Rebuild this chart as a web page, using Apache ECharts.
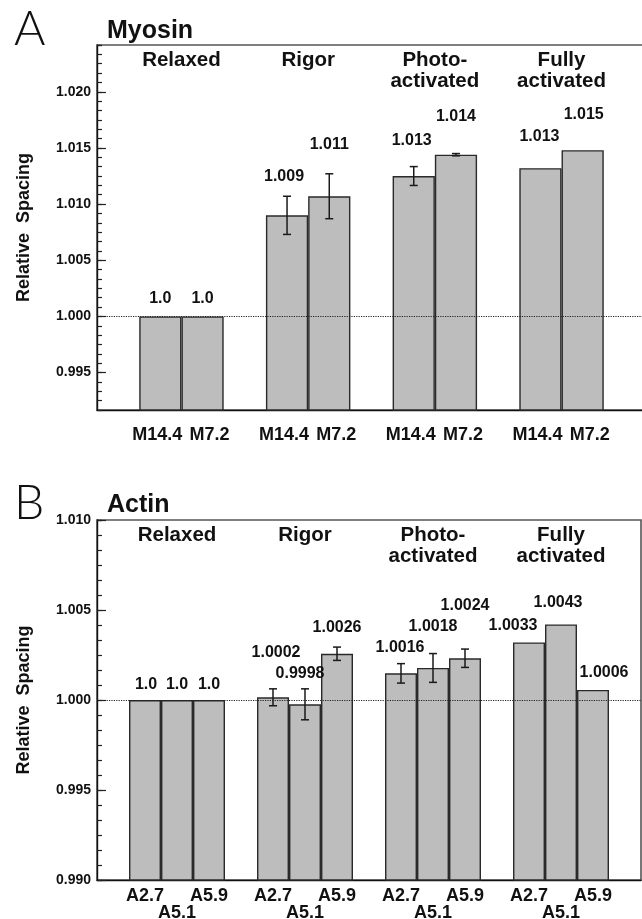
<!DOCTYPE html>
<html><head><meta charset="utf-8">
<script src="https://cdn.jsdelivr.net/npm/echarts@6/dist/echarts.min.js"></script>
<style>html,body{margin:0;padding:0;background:#fff}#c{width:642px;height:919px}</style>
</head><body><div id="c"></div>
<script>
// ================= DATA =================
const conditions = ['Relaxed', 'Rigor', 'Photo-\nactivated', 'Fully\nactivated'];

// Panel A - Myosin
const myosinProbes = ['M14.4', 'M7.2'];
const myosinM144 = [1.0000, 1.0090, 1.0125, 1.0132];
const myosinM72  = [1.0000, 1.0107, 1.0144, 1.0148];
const myosinM144Err = [0, 0.0017, 0.00084, 0];
const myosinM72Err  = [0, 0.0020, 0.0001, 0];
const myosinM144Text = ['1.0', '1.009', '1.013', '1.013'];
const myosinM72Text  = ['1.0', '1.011', '1.014', '1.015'];
const myosinTicks = [0.995, 1.000, 1.005, 1.010, 1.015, 1.020];

// Panel B - Actin
const actinProbes = ['A2.7', 'A5.1', 'A5.9'];
const actinA27 = [1.0000, 1.00015, 1.00148, 1.0032];
const actinA51 = [1.0000, 0.99976, 1.00178, 1.0042];
const actinA59 = [1.0000, 1.00257, 1.00232, 1.00056];
const actinA27Err = [0, 0.00047, 0.00054, 0];
const actinA51Err = [0, 0.00086, 0.00080, 0];
const actinA59Err = [0, 0.00037, 0.00051, 0];
const actinA27Text = ['1.0', '1.0002', '1.0016', '1.0033'];
const actinA51Text = ['1.0', '0.9998', '1.0018', '1.0043'];
const actinA59Text = ['1.0', '1.0026', '1.0024', '1.0006'];
const actinTicks = [0.990, 0.995, 1.000, 1.005, 1.010];

// ================= LAYOUT / STYLE =================
const FONT = "'Liberation Sans', Arial, Helvetica, sans-serif";
const LETTER_FONT = "Lato, " + FONT;
const INK = '#111';
const MINOR = 0.005 / 6;

const option = {
  animation: false,
  backgroundColor: '#ffffff',
  title: [
    { text: 'A', left: 9, top: 1, textStyle: { fontFamily: LETTER_FONT, fontWeight: 300, fontSize: 48, color: INK } },
    { text: 'Myosin', left: 102, top: 14, textStyle: { fontFamily: FONT, fontWeight: 'bold', fontSize: 25, color: INK } },
    { text: 'B', left: 9, top: 475, textStyle: { fontFamily: LETTER_FONT, fontWeight: 300, fontSize: 48, color: INK } },
    { text: 'Actin', left: 102, top: 488, textStyle: { fontFamily: FONT, fontWeight: 'bold', fontSize: 25, color: INK } }
  ],
  grid: [], xAxis: [], yAxis: [], series: []
};

function addPanel(p) {
  const gi = option.grid.length;
  option.grid.push(Object.assign({
    show: true, borderColor: '#555', borderWidth: 1.6, backgroundColor: 'rgba(0,0,0,0)',
    containLabel: false, outerBoundsMode: 'none'
  }, p.rect));
  const k = p.probes.length, nG = conditions.length;
  const nSlots = 1 + nG * (k + 1);
  const slotOf = (g, j) => 1 + g * (k + 1) + j;

  // bottom category axis (one slot per bar)
  const cats = new Array(nSlots).fill('');
  for (let g = 0; g < nG; g++) for (let j = 0; j < k; j++)
    cats[slotOf(g, j)] = { value: p.probes[j], textStyle: p.probeLabelStyle[j] };
  const xi = option.xAxis.length;
  option.xAxis.push({
    gridIndex: gi, type: 'category', position: 'bottom', data: cats, boundaryGap: true,
    axisLine: { onZero: false, lineStyle: { color: INK, width: 1.4 } },
    axisTick: { show: false }, splitLine: { show: false },
    axisLabel: { interval: 0, margin: p.labelMargin, fontFamily: FONT, fontWeight: 'bold', fontSize: 18, color: INK, lineHeight: 18 }
  });
  // top axis carrying the condition headers
  const heads = new Array(2 * nSlots + 1).fill('');
  conditions.forEach((c, g) => { heads[2 * slotOf(g, 0) + k] = c; });
  option.xAxis.push({
    gridIndex: gi, type: 'category', position: 'top', data: heads, boundaryGap: false,
    axisLine: { show: false }, axisTick: { show: false }, splitLine: { show: false },
    axisLabel: { inside: true, interval: 0, margin: p.headMargin, fontFamily: FONT, fontWeight: 'bold', fontSize: 20.5, lineHeight: 21, color: INK }
  });

  // y axes: minor ticks + major ticks/labels
  const yi = option.yAxis.length;
  option.yAxis.push({
    gridIndex: gi, type: 'value', position: 'left', min: p.yMin, max: p.yMax, interval: MINOR,
    axisLine: { show: true, lineStyle: { color: INK, width: 1.4 } },
    axisTick: { show: true, inside: true, length: 5, lineStyle: { color: '#222', width: 1.2 } },
    axisLabel: { show: false }, splitLine: { show: false }
  });
  option.yAxis.push({
    gridIndex: gi, type: 'value', position: 'left', min: p.yMin, max: p.yMax,
    axisLine: { show: false },
    axisTick: { show: true, inside: true, length: 9, customValues: p.ticks, lineStyle: { color: '#222', width: 1.2 } },
    axisLabel: { customValues: p.ticks, formatter: v => v.toFixed(3), margin: 6, fontFamily: FONT, fontWeight: 'bold', fontSize: 14, color: INK },
    splitLine: { show: false },
    name: 'Relative  Spacing', nameLocation: 'middle', nameGap: 64, nameRotate: 90,
    nameTextStyle: { fontFamily: FONT, fontWeight: 'bold', fontSize: 18, color: INK }
  });

  // bars: one series per probe
  const errItems = [];
  p.probes.forEach((name, j) => {
    const data = new Array(nSlots).fill('-');
    p.values[j].forEach((v, g) => {
      data[slotOf(g, j)] = { value: v, label: { formatter: p.texts[j][g], offset: p.nudges[j][g] } };
      if (p.errs[j][g] > 0) errItems.push([slotOf(g, j), v, p.errs[j][g]]);
    });
    option.series.push({
      type: 'bar', name: name, xAxisIndex: xi, yAxisIndex: yi, data: data,
      barGap: '-100%', barCategoryGap: '0%',
      itemStyle: { color: '#bdbdbd', borderColor: '#2a2a2a', borderWidth: 1.4 },
      label: { show: true, position: 'top', distance: 0, fontFamily: FONT, fontWeight: 'bold', fontSize: 16, color: INK },
      emphasis: { disabled: true }, silent: true,
      markLine: j === k - 1 ? {
        silent: true, symbol: ['none', 'none'], label: { show: false },
        lineStyle: { type: 'dotted', color: '#222', width: 1.2 },
        data: [{ yAxis: 1.0 }]
      } : undefined
    });
  });

  // error bars
  option.series.push({
    type: 'custom', xAxisIndex: xi, yAxisIndex: yi, silent: true, z: 4,
    dimensions: ['slot', 'value', 'err'], encode: { x: 'slot', y: 'value' },
    data: errItems,
    renderItem: function (params, api) {
      const x = api.value(0), v = api.value(1), e = api.value(2);
      const t = api.coord([x, v + e]), b = api.coord([x, v - e]);
      const hw = 4, st = { stroke: '#1a1a1a', lineWidth: 1.5 };
      return { type: 'group', children: [
        { type: 'line', shape: { x1: t[0], y1: t[1], x2: b[0], y2: b[1] }, style: st },
        { type: 'line', shape: { x1: t[0] - hw, y1: t[1], x2: t[0] + hw, y2: t[1] }, style: st },
        { type: 'line', shape: { x1: b[0] - hw, y1: b[1], x2: b[0] + hw, y2: b[1] }, style: st }
      ] };
    }
  });
}

addPanel({
  rect: { left: 97, top: 45, width: 549, height: 365 },
  probes: myosinProbes,
  values: [myosinM144, myosinM72],
  errs: [myosinM144Err, myosinM72Err],
  texts: [myosinM144Text, myosinM72Text],
  nudges: [[[0, -10], [-3, -31], [-2, -27], [-1, -24]], [[0, -10], [0, -44], [0, -30], [1, -28]]],
  probeLabelStyle: [{ padding: [0, 6, 0, 0] }, { padding: [0, 0, 0, 14] }],
  labelMargin: 16, headMargin: 5,
  yMin: 0.995 - 4 * MINOR, yMax: 1.020 + 5 * MINOR, ticks: myosinTicks
});

addPanel({
  rect: { left: 97, top: 520, width: 544, height: 360 },
  probes: actinProbes,
  values: [actinA27, actinA51, actinA59],
  errs: [actinA27Err, actinA51Err, actinA59Err],
  texts: [actinA27Text, actinA51Text, actinA59Text],
  nudges: [[[1, -7], [3, -37], [-1, -18], [-16, -9]], [[0, -7], [-5, -23], [0, -33], [-3, -14]], [[0, -7], [0, -18], [0, -45], [11, -9]]],
  probeLabelStyle: [{}, { padding: [17, 0, 0, 0] }, {}],
  labelMargin: 7, headMargin: 5,
  yMin: 0.990, yMax: 1.010, ticks: actinTicks
});

const chart = echarts.init(document.getElementById('c'), null, { renderer: 'canvas' });
chart.setOption(option);
</script>
</body></html>
